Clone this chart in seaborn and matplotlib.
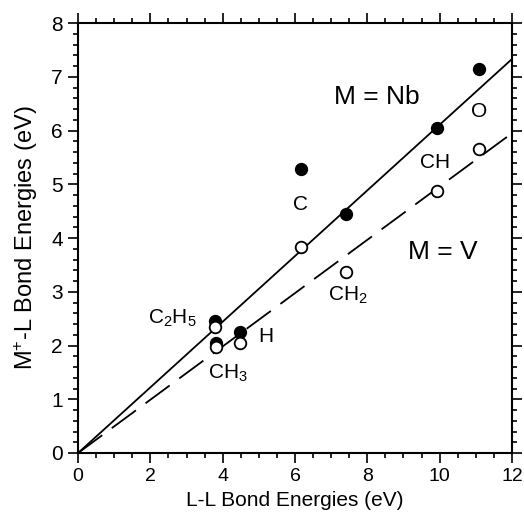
import matplotlib
matplotlib.use("Agg")
import matplotlib.pyplot as plt
import seaborn as sns
import pandas as pd
from matplotlib.ticker import MultipleLocator

sns.set_theme(style="white")
plt.rcParams['font.family'] = ['Liberation Sans', 'DejaVu Sans']
plt.rcParams['mathtext.default'] = 'regular'
plt.rcParams['text.color'] = 'black'

# Data
ll_energy = [3.78, 3.81, 4.48, 6.16, 7.40, 9.92, 11.10]
nb_energy = [2.46, 2.05, 2.25, 5.28, 4.45, 6.05, 7.14]
ll_energy_v = [3.78, 3.81, 4.48, 6.16, 7.40, 9.92, 11.10]
v_energy = [2.34, 1.98, 2.05, 3.83, 3.37, 4.87, 5.66]
fit_x = [0, 12]
fit_nb = [0, 7.33]
fit_v = [0, 5.95]

labels = ["C$_2$H$_5$", "CH$_3$", "H", "C", "CH$_2$", "CH", "O"]
label_x = [2.62, 4.15, 5.19, 6.16, 7.46, 9.86, 11.10]
label_y = [2.51, 1.49, 2.16, 4.63, 2.94, 5.41, 6.36]

fig = plt.figure(figsize=(5.24, 5.24), dpi=100)
ax = fig.add_axes([0.149, 0.1355, 0.828, 0.8205])

sns.lineplot(x=fit_x, y=fit_nb, ax=ax, color="black", lw=1.3)
sns.lineplot(x=fit_x, y=fit_v, ax=ax, color="black", lw=1.3, dashes=False)
ax.lines[-1].set_dashes((16.6, 6.6))

sns.scatterplot(x=ll_energy, y=nb_energy, ax=ax, color="black", edgecolor="black",
                s=70, linewidth=1.2, zorder=3)
sns.scatterplot(x=ll_energy_v, y=v_energy, ax=ax, color="white", edgecolor="black",
                s=70, linewidth=1.3, zorder=4)

for t, x, y in zip(labels, label_x, label_y):
    ax.text(x, y, t, fontsize=15, ha="center", va="center", color="black")
ax.text(8.26, 6.62, "M = Nb", fontsize=19, ha="center", va="center", color="black")
ax.text(10.1, 3.74, "M = V", fontsize=19, ha="center", va="center", color="black")

ax.set_xlim(0, 12)
ax.set_ylim(0, 8)
ax.xaxis.set_major_locator(MultipleLocator(2))
ax.xaxis.set_minor_locator(MultipleLocator(0.5))
ax.yaxis.set_major_locator(MultipleLocator(1))
ax.yaxis.set_minor_locator(MultipleLocator(0.2))
ax.tick_params(which="both", direction="out", top=True, right=True,
               bottom=True, left=True, width=1.2, color="black",
               labelcolor="black")
ax.tick_params(which="major", length=7.5, pad=3.5)
ax.tick_params(which="minor", length=3.6)
ax.tick_params(axis="x", labelsize=14)
ax.tick_params(axis="y", labelsize=15)
for s in ax.spines.values():
    s.set_color("black")
    s.set_linewidth(1.5)

ax.set_xlabel("L-L Bond Energies (eV)", fontsize=15, color="black", labelpad=4)
ax.set_ylabel("M$^{+}$-L Bond Energies (eV)", fontsize=17, color="black", labelpad=8)

fig.savefig("out.png", dpi=100)
